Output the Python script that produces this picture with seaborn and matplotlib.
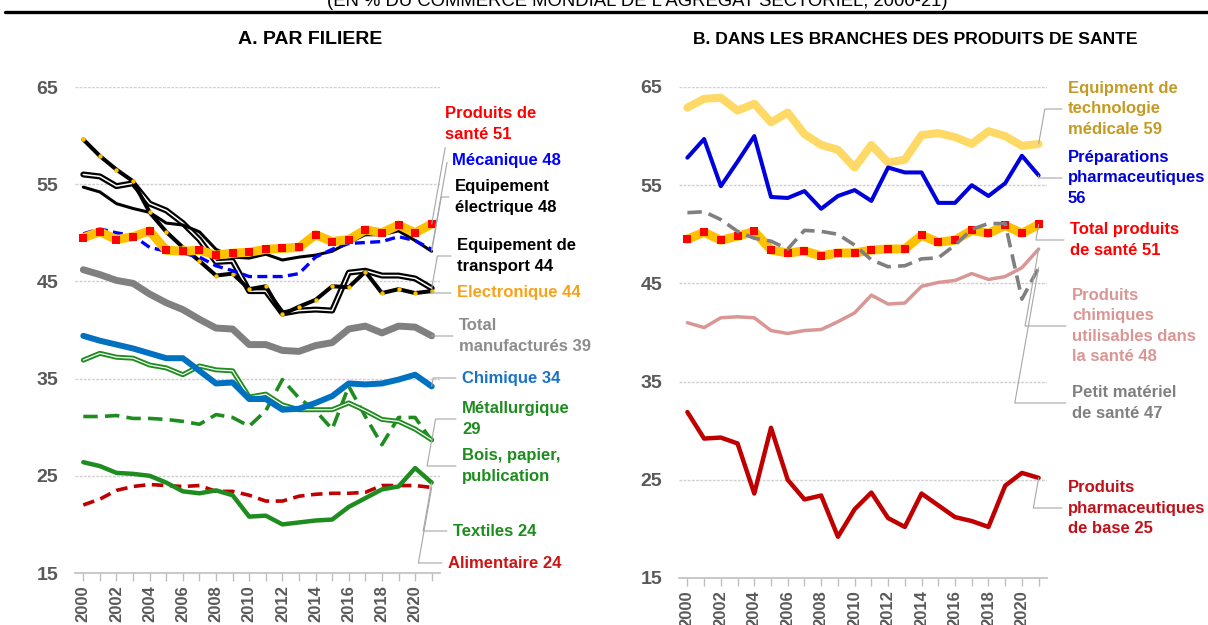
import matplotlib
matplotlib.use("Agg")
import matplotlib.pyplot as plt
from matplotlib.lines import Line2D
import seaborn as sns

# %%
# data
years = list(range(2000, 2022))

# panel A: par filiere
sante = [49.5, 50.1, 49.3, 49.6, 50.2, 48.2, 48.1, 48.2, 47.7, 47.9, 48.0,
         48.3, 48.4, 48.5, 49.8, 49.1, 49.3, 50.3, 50.0, 50.8, 50.0, 50.9]
mecanique = [49.9, 50.4, 50.0, 49.7, 48.5, 48.1, 47.9, 47.5, 46.6, 46.1, 45.5,
             45.5, 45.5, 45.8, 47.5, 48.3, 48.9, 49.0, 49.1, 49.6, 49.2, 48.3]
electrique = [54.7, 54.2, 53.0, 52.5, 52.1, 51.0, 50.8, 50.1, 48.3, 47.5, 47.4,
              47.8, 47.2, 47.5, 47.7, 48.1, 49.0, 49.8, 49.8, 50.2, 49.2, 48.1]
electronique = [59.6, 57.9, 56.5, 55.3, 52.1, 50.1, 48.5, 47.1, 45.6, 45.8, 44.2,
                44.5, 41.6, 42.4, 43.1, 44.5, 44.4, 46.0, 43.8, 44.2, 43.8, 44.0]
transport = [56.0, 55.8, 54.8, 55.1, 53.0, 52.3, 51.0, 49.3, 47.0, 47.1, 44.0,
             44.0, 41.7, 42.0, 42.1, 42.0, 45.9, 46.1, 45.6, 45.6, 45.3, 44.3]
total_manuf = [46.2, 45.7, 45.1, 44.8, 43.7, 42.8, 42.1, 41.1, 40.2, 40.1, 38.5,
               38.5, 37.9, 37.8, 38.4, 38.7, 40.1, 40.4, 39.7, 40.4, 40.3, 39.4]
chimique = [39.4, 38.9, 38.5, 38.1, 37.6, 37.1, 37.1, 35.8, 34.5, 34.6, 32.9,
            32.9, 31.8, 31.9, 32.5, 33.2, 34.5, 34.4, 34.5, 34.9, 35.4, 34.2]
bois = [36.9, 37.6, 37.2, 37.1, 36.4, 36.1, 35.4, 36.3, 35.9, 35.8, 33.1,
        33.4, 32.3, 31.8, 31.8, 31.8, 32.5, 31.7, 30.8, 30.6, 29.8, 28.7]
metallurgique = [31.1, 31.1, 31.2, 30.9, 30.9, 30.8, 30.6, 30.3, 31.3, 31.0, 30.1,
                 31.7, 34.9, 33.0, 31.7, 29.8, 34.2, 31.1, 28.2, 31.0, 31.0, 28.6]
textiles = [26.4, 26.0, 25.3, 25.2, 25.0, 24.3, 23.4, 23.2, 23.5, 23.0, 20.8,
            20.9, 20.0, 20.2, 20.4, 20.5, 21.8, 22.7, 23.6, 23.9, 25.8, 24.3]
alimentaire = [22.0, 22.6, 23.5, 23.9, 24.1, 24.0, 23.9, 24.0, 23.4, 23.4, 23.0,
               22.4, 22.4, 22.9, 23.1, 23.2, 23.2, 23.3, 24.0, 24.0, 24.0, 23.8]

# panel B: branches des produits de sante
tech_medicale = [62.9, 63.8, 63.9, 62.6, 63.3, 61.4, 62.4, 60.2, 59.1, 58.6, 56.8,
                 59.1, 57.3, 57.6, 60.1, 60.3, 59.9, 59.2, 60.5, 60.0, 59.0, 59.2]
preparations = [57.8, 59.7, 54.9, 57.4, 60.0, 53.8, 53.7, 54.4, 52.6, 53.9, 54.5,
                53.4, 56.8, 56.3, 56.3, 53.2, 53.2, 55.0, 53.9, 55.2, 58.0, 56.0]
total_sante = [49.5, 50.2, 49.4, 49.8, 50.3, 48.4, 48.1, 48.3, 47.8, 48.1, 48.1,
               48.4, 48.5, 48.5, 49.9, 49.2, 49.4, 50.4, 50.1, 50.9, 50.1, 51.0]
petit_materiel = [52.2, 52.3, 51.5, 50.3, 49.6, 49.3, 48.5, 50.4, 50.3, 50.0, 48.9,
                  47.4, 46.7, 46.8, 47.5, 47.6, 48.9, 50.5, 51.1, 51.1, 43.4, 46.6]
chimiques_sante = [41.0, 40.5, 41.5, 41.6, 41.5, 40.2, 39.9, 40.2, 40.3, 41.1, 42.0,
                   43.8, 42.9, 43.0, 44.7, 45.1, 45.3, 46.0, 45.4, 45.7, 46.6, 48.5]
pharma_base = [31.9, 29.2, 29.3, 28.7, 23.6, 30.3, 25.0, 23.0, 23.4, 19.2, 22.0,
               23.7, 21.1, 20.2, 23.6, 22.4, 21.2, 20.8, 20.2, 24.4, 25.7, 25.2]

y_ticks = [15, 25, 35, 45, 55, 65]
x_ticks = list(range(2000, 2021, 2))

# %%
# style
sns.set_theme(style="white")
plt.rcParams["font.family"] = ["Liberation Sans", "DejaVu Sans"]

W, H = 1208, 625
fig = plt.figure(figsize=(W / 100, H / 100), dpi=100)

ORANGE = "#ffc000"
RED = "#ff0000"
GREEN = "#1e8c1e"


def fx(px):
    return px / W


def fy(py):
    return 1 - py / H


def line(ax, y, color, lw, **kw):
    sns.lineplot(x=years, y=y, ax=ax, color=color, lw=lw, **kw)


def double_line(ax, y, color, lw_out, lw_in):
    line(ax, y, color, lw_out)
    line(ax, y, "white", lw_in)


def sante_line(ax, y):
    line(ax, y, ORANGE, 6.5, solid_joinstyle="round")
    sns.lineplot(x=years, y=y, ax=ax, color=ORANGE, lw=0, marker="s",
                 markersize=5.5, markerfacecolor=RED, markeredgewidth=0)


def style_axes(ax):
    ax.set_xlim(1999.5, 2021.5)
    ax.set_ylim(15, 65)
    ax.set_yticks(y_ticks)
    ax.set_yticklabels([str(v) for v in y_ticks])
    ax.set_xticks(x_ticks)
    ax.set_xticks(years, minor=True)
    ax.set_xticklabels([str(v) for v in x_ticks], rotation=90)
    for lab in ax.get_xticklabels():
        lab.set_fontsize(12)
        lab.set_fontweight("bold")
        lab.set_color("#595959")
    for lab in ax.get_yticklabels():
        lab.set_fontsize(14)
        lab.set_fontweight("bold")
        lab.set_color("#595959")
        lab.set_family(["Liberation Sans Narrow", "Liberation Sans"])
    ax.tick_params(axis="x", which="both", direction="out", length=6,
                   width=1, color="#bfbfbf", bottom=True, pad=3)
    ax.tick_params(axis="y", length=0, pad=12)
    for g in y_ticks[1:]:
        ax.axhline(g, color="#d0d0d0", lw=1, ls=(0, (2, 1)), zorder=0)
    for s in ["top", "right", "left"]:
        ax.spines[s].set_visible(False)
    ax.spines["bottom"].set_color("#bfbfbf")
    ax.spines["bottom"].set_linewidth(1.2)
    ax.set_xlabel("")
    ax.set_ylabel("")


def label(ax, text, color, x_end, y_end, px, py, weight="bold"):
    ax.annotate(text, xy=(x_end, y_end), xycoords="data",
                xytext=(fx(px), fy(py)), textcoords="figure fraction",
                ha="left", va="center", fontsize=12, fontweight=weight,
                color=color, linespacing=1.42, annotation_clip=False,
                arrowprops=dict(arrowstyle="-", color="#a6a6a6", lw=0.8,
                                shrinkA=2, shrinkB=0, relpos=(0, 0.5),
                                connectionstyle="angle,angleA=0,angleB=80,rad=0"))


# %%
# panel A
axA = fig.add_axes([fx(75), fy(573), fx(440 - 75), (573 - 87) / H])
line(axA, alimentaire, "#c00000", 2.6, linestyle=(0, (3.2, 1.8)))
line(axA, textiles, GREEN, 3.2)
line(axA, metallurgique, GREEN, 2.6, linestyle=(0, (4, 2)))
double_line(axA, bois, GREEN, 3.6, 0.9)
line(axA, chimique, "#0070c0", 4.3)
line(axA, total_manuf, "#808080", 5.0)
double_line(axA, transport, "black", 4.3, 1.1)
line(axA, electrique, "black", 2.2)
line(axA, electronique, "black", 2.9, marker="o", markersize=3.2,
     markerfacecolor=ORANGE, markeredgewidth=0)
line(axA, mecanique, "#0000ff", 2.4, linestyle=(0, (3, 1.6)))
sante_line(axA, sante)
style_axes(axA)

labels_A = [
    ("Produits de\nsanté 51", RED, sante, 445, 124),
    ("Mécanique 48", "#0000ff", mecanique, 452, 160),
    ("Equipement\nélectrique 48", "black", electrique, 455, 197),
    ("Equipement de\ntransport 44", "black", transport, 457, 256),
    ("Electronique 44", "#f7a21b", electronique, 457, 293),
    ("Total\nmanufacturés 39", "#8c8c8c", total_manuf, 459, 336),
    ("Chimique 34", "#1a73c4", chimique, 462, 378),
    ("Métallurgique\n29", GREEN, metallurgique, 462, 419),
    ("Bois, papier,\npublication", GREEN, bois, 462, 466),
    ("Textiles 24", GREEN, textiles, 453, 531),
    ("Alimentaire 24", "#cc1414", alimentaire, 448, 563),
]
for text, color, series, px, py in labels_A:
    label(axA, text, color, years[-1], series[-1], px, py)

# %%
# panel B
axB = fig.add_axes([fx(679), fy(578), fx(1047 - 679), (578 - 87) / H])
line(axB, pharma_base, "#c00000", 3.2)
line(axB, chimiques_sante, "#d99694", 2.5)
line(axB, tech_medicale, "#ffd966", 5.8)
line(axB, preparations, "#0000dd", 2.9)
sante_line(axB, total_sante)
line(axB, petit_materiel, "#7f7f7f", 2.6, linestyle=(0, (4, 2)))
style_axes(axB)

labels_B = [
    ("Equipment de\ntechnologie\nmédicale 59", "#c49a22", tech_medicale, 1068, 109),
    ("Préparations\npharmaceutiques\n56", "#0000dd", preparations, 1068, 178),
    ("Total produits\nde santé 51", RED, total_sante, 1070, 240),
    ("Produits\nchimiques\nutilisables dans\nla santé 48", "#d99694", chimiques_sante, 1072, 326),
    ("Petit matériel\nde santé 47", "#808080", petit_materiel, 1072, 403),
    ("Produits\npharmaceutiques\nde base 25", "#c0101a", pharma_base, 1068, 508),
]
for text, color, series, px, py in labels_B:
    label(axB, text, color, years[-1], series[-1], px, py)

# %%
# titles
fig.text(fx(637), fy(6), "(EN % DU COMMERCE MONDIAL DE L'AGREGAT SECTORIEL, 2000-21)",
         ha="center", va="baseline", fontsize=13.3, color="black")
fig.add_artist(Line2D([fx(5), 1], [fy(12), fy(12)], color="black", lw=2.4))
fig.text(fx(310), fy(40), "A. PAR FILIERE", ha="center", va="center",
         fontsize=14, fontweight="bold", color="black")
fig.text(fx(915), fy(39), "B. DANS LES BRANCHES DES PRODUITS DE SANTE", ha="center",
         va="center", fontsize=12.6, fontweight="bold", color="black")

fig.savefig("out.png", dpi=100)
